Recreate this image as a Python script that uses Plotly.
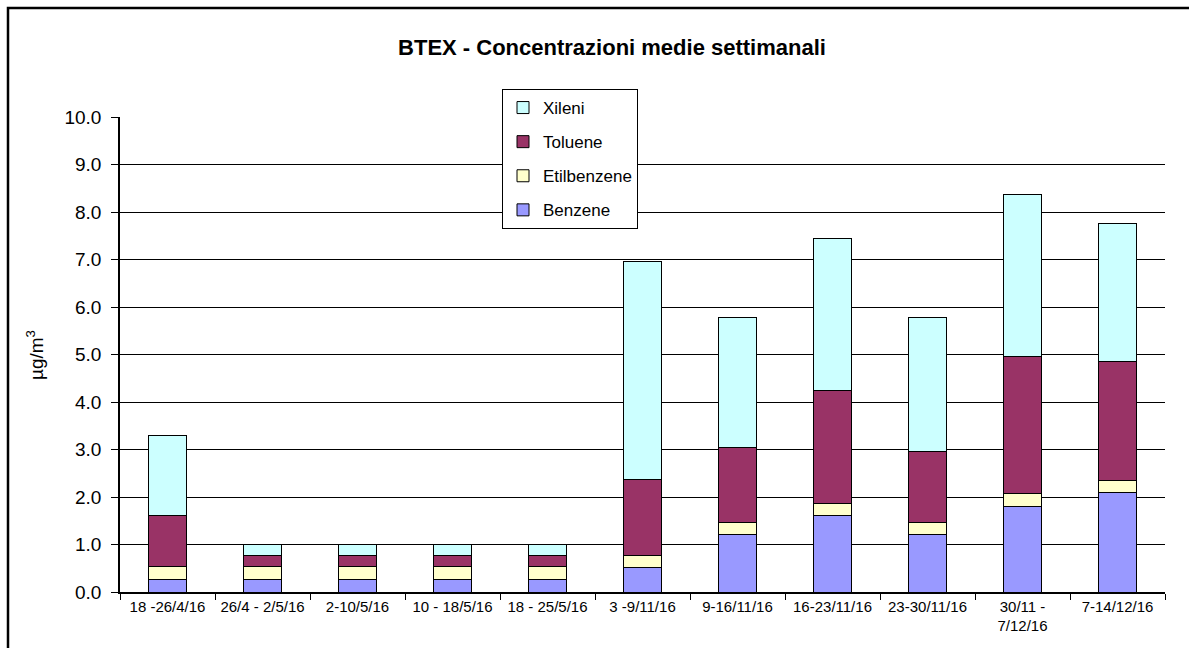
import plotly.graph_objects as go

categories = ["18 -26/4/16", "26/4 - 2/5/16", "2-10/5/16", "10 - 18/5/16", "18 - 25/5/16",
              "3 -9/11/16", "9-16/11/16", "16-23/11/16", "23-30/11/16", "30/11 -<br>7/12/16", "7-14/12/16"]
benzene = [0.27, 0.27, 0.27, 0.27, 0.27, 0.51, 1.22, 1.61, 1.21, 1.79, 2.10]
etilbenzene = [0.26, 0.26, 0.26, 0.26, 0.26, 0.26, 0.25, 0.25, 0.25, 0.28, 0.25]
toluene = [1.08, 0.24, 0.24, 0.24, 0.24, 1.59, 1.58, 2.38, 1.50, 2.88, 2.50]
xileni = [1.69, 0.23, 0.23, 0.23, 0.23, 4.60, 2.72, 3.21, 2.81, 3.42, 2.90]
y_ticks = [0, 1, 2, 3, 4, 5, 6, 7, 8, 9, 10]

series = [("Benzene", benzene, "#9999FF", 4),
          ("Etilbenzene", etilbenzene, "#FFFFCC", 3),
          ("Toluene", toluene, "#993366", 2),
          ("Xileni", xileni, "#CCFFFF", 1)]

fig = go.Figure()
for name, vals, col, rank in series:
    fig.add_trace(go.Bar(x=categories, y=vals, name=name, legendgroup=name, legendrank=rank,
                         marker=dict(color=col, line=dict(color="black", width=1))))

W, H = 1189, 648
L, R, T, B = 120, 24, 117, 56
pw, ph = W - L - R, H - T - B

def px2x(px):
    return (px - L) / pw

def px2y(py):
    return (H - B - py) / ph

fig.update_layout(
    width=W, height=H,
    barmode="stack", bargap=0.61,
    plot_bgcolor="white", paper_bgcolor="white",
    margin=dict(l=L, r=R, t=T, b=B, autoexpand=False),
    font=dict(family="Arial, Liberation Sans, sans-serif", color="black"),
    title=dict(text="<b>BTEX - Concentrazioni medie settimanali</b>",
               x=612 / W, xanchor="center", y=1 - 47 / H, yanchor="middle",
               font=dict(size=22, color="black")),
    showlegend=True,
    legend=dict(xref="container", yref="container", x=502 / W, y=1 - 89 / H,
                xanchor="left", yanchor="top", bgcolor="white",
                bordercolor="black", borderwidth=1,
                traceorder="grouped", tracegroupgap=9,
                font=dict(size=17, color="black")),
    xaxis=dict(showline=True, linecolor="black", linewidth=1.5,
               ticks="outside", tickson="boundaries", ticklen=6, tickcolor="black",
               tickfont=dict(size=15), tickangle=0, showgrid=False),
    yaxis=dict(range=[0, 10], tickvals=y_ticks, tickformat=".1f",
               showline=True, linecolor="black", linewidth=1.5,
               ticks="outside", ticklen=7, tickcolor="black", ticklabelstandoff=6,
               showgrid=True, gridcolor="black", gridwidth=1.3,
               tickfont=dict(size=19)),
)

fig.add_annotation(text="µg/m<sup>3</sup>", xref="paper", yref="paper",
                   x=px2x(35), y=px2y(355), xanchor="center", yanchor="middle",
                   textangle=-90, showarrow=False, font=dict(size=19, color="black"))

fig.add_shape(type="rect", xref="paper", yref="paper",
              x0=px2x(8), x1=px2x(1210), y0=px2y(670), y1=px2y(8),
              line=dict(color="black", width=2.5), fillcolor="rgba(0,0,0,0)", layer="above")

fig.write_html("out.html", config={"displayModeBar": False},
               post_script="document.body.style.margin='0';document.body.style.padding='0';")
